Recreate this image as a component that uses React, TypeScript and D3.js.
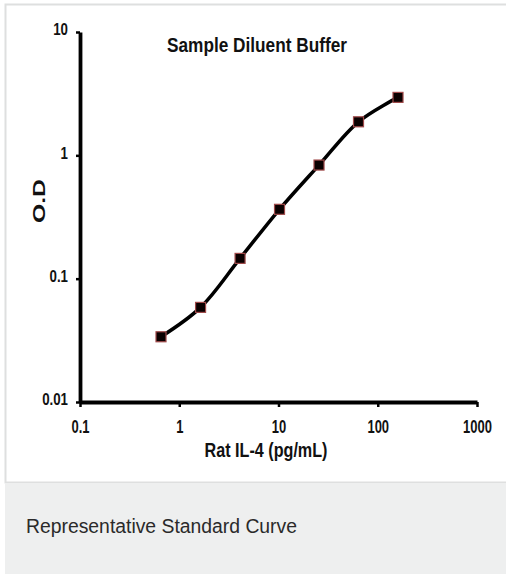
import { useEffect, useRef } from "react";
import * as d3 from "d3";

// Standard curve readings (pg/mL vs optical density)
const concentrations = [0.655, 1.64, 4.1, 10.24, 25.6, 64, 160];
const odValues = [0.0338, 0.0585, 0.146, 0.365, 0.834, 1.87, 2.95];

const xTicks = [0.1, 1, 10, 100, 1000];
const yTicks = [0.01, 0.1, 1, 10];

const chartTitle = "Sample Diluent Buffer";
const xLabel = "Rat IL-4 (pg/mL)";
const yLabel = "O.D";
const caption = "Representative Standard Curve";

const W = 506;
const H = 574;

const sans = "'Liberation Sans', Arial, Helvetica, sans-serif";

export default function App() {
  const svgRef = useRef<SVGSVGElement>(null);

  useEffect(() => {
    if (!svgRef.current) return;
    const svg = d3.select(svgRef.current);
    svg.selectAll("*").remove();

    // Frame and caption strip
    svg.append("rect")
      .attr("x", 5.5).attr("y", 4.5)
      .attr("width", 520).attr("height", 478)
      .attr("fill", "#fff")
      .attr("stroke", "#dedfdf")
      .attr("stroke-width", 2);

    svg.append("rect")
      .attr("x", 5).attr("y", 483)
      .attr("width", 520).attr("height", 100)
      .attr("fill", "#eeefef");

    svg.append("text")
      .attr("x", 26).attr("y", 533)
      .attr("font-family", sans)
      .attr("font-size", 19.5)
      .attr("fill", "#2a2a2a")
      .attr("textLength", 271)
      .attr("lengthAdjust", "spacingAndGlyphs")
      .text(caption);

    const x = d3.scaleLog().domain([0.1, 1000]).range([80, 477]);
    const y = d3.scaleLog().domain([0.01, 10]).range([402, 32]);

    // Axes
    const xAxis = svg.append("g")
      .attr("transform", `translate(0,${y(0.01)})`)
      .call(
        d3.axisBottom(x)
          .tickValues(xTicks)
          .tickSize(5)
          .tickSizeOuter(0)
          .tickPadding(13)
          .tickFormat((d) => String(d))
      );

    const yAxis = svg.append("g")
      .attr("transform", `translate(${x(0.1)},0)`)
      .call(
        d3.axisLeft(y)
          .tickValues(yTicks)
          .tickSize(4)
          .tickSizeOuter(0)
          .tickFormat((d) => String(d))
      );

    [xAxis, yAxis].forEach((a) => {
      a.select(".domain").attr("stroke", "#000").attr("stroke-width", 3.8);
      a.selectAll(".tick line").attr("stroke", "#000").attr("stroke-width", 2.5);
    });

    // narrow-looking tick labels: regular font squeezed horizontally
    xAxis.selectAll(".tick text")
      .attr("fill", "#111")
      .attr("font-family", sans)
      .attr("font-weight", "bold")
      .attr("font-size", 18)
      .attr("transform", "scale(0.72,1)");

    yAxis.selectAll(".tick text")
      .attr("fill", "#111")
      .attr("font-family", sans)
      .attr("font-weight", "bold")
      .attr("font-size", 16)
      .attr("x", 0)
      .attr("dy", "0.3em")
      .attr("transform", "translate(-12,-2) scale(0.83,1)");

    // Titles
    svg.append("text")
      .attr("x", 257).attr("y", 52)
      .attr("text-anchor", "middle")
      .attr("font-family", sans)
      .attr("font-weight", "bold")
      .attr("font-size", 21)
      .attr("fill", "#111")
      .attr("textLength", 180)
      .attr("lengthAdjust", "spacingAndGlyphs")
      .text(chartTitle);

    svg.append("text")
      .attr("x", 266).attr("y", 457)
      .attr("text-anchor", "middle")
      .attr("font-family", sans)
      .attr("font-weight", "bold")
      .attr("font-size", 21)
      .attr("fill", "#111")
      .attr("textLength", 123)
      .attr("lengthAdjust", "spacingAndGlyphs")
      .text(xLabel);

    svg.append("text")
      .attr("transform", "translate(45,201) rotate(-90)")
      .attr("text-anchor", "middle")
      .attr("font-family", sans)
      .attr("font-weight", "bold")
      .attr("font-size", 17)
      .attr("fill", "#111")
      .attr("textLength", 44)
      .attr("lengthAdjust", "spacingAndGlyphs")
      .text(yLabel);

    // Curve
    const pts = concentrations.map((c, i) => [x(c), y(odValues[i])] as [number, number]);
    const line = d3.line().curve(d3.curveCatmullRom.alpha(0.5));

    svg.append("path")
      .attr("d", line(pts))
      .attr("fill", "none")
      .attr("stroke", "#000")
      .attr("stroke-width", 3.5)
      .attr("stroke-linecap", "round");

    const s = 10;
    svg.append("g")
      .selectAll("rect")
      .data(pts)
      .join("rect")
      .attr("x", (d) => d[0] - s / 2)
      .attr("y", (d) => d[1] - s / 2)
      .attr("width", s)
      .attr("height", s)
      .attr("fill", "#0a0000")
      .attr("stroke", "#a04a4a")
      .attr("stroke-width", 1.2);
  }, []);

  return (
    <div style={{ position: "absolute", left: 0, top: 0, width: W, height: H, overflow: "hidden" }}>
      <svg ref={svgRef} width={W} height={H} style={{ display: "block" }} />
    </div>
  );
}
